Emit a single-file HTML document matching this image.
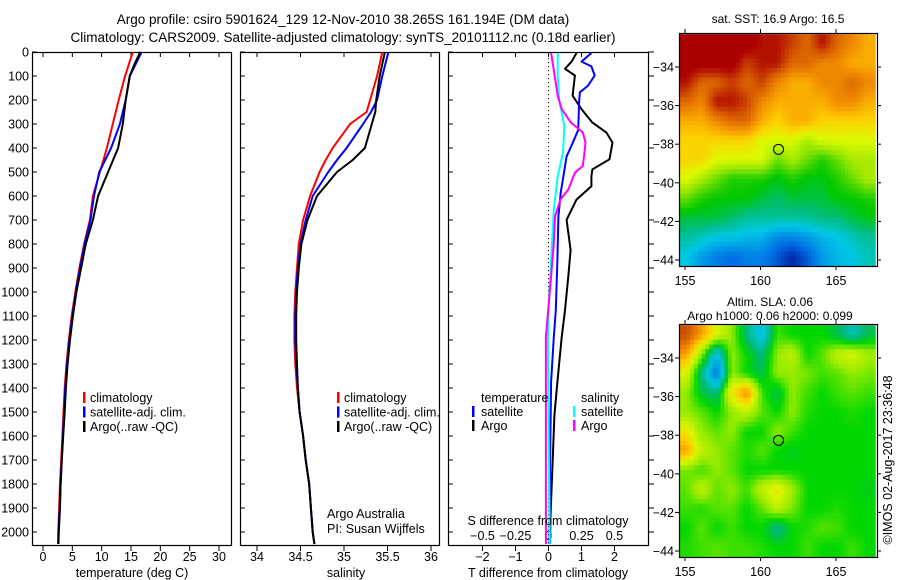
<!DOCTYPE html>
<html><head><meta charset="utf-8"><style>
html,body{margin:0;padding:0;background:#fff;}
svg{display:block;font-family:"Liberation Sans",sans-serif;}
text{font-size:12.5px;fill:#000;}
</style></head><body>
<svg id="fig" width="900" height="580" viewBox="0 0 900 580" xmlns="http://www.w3.org/2000/svg">
<text x="343" y="24" text-anchor="middle" style="font-size:13.5px">Argo profile: csiro 5901624_129 12-Nov-2010 38.265S 161.194E (DM data)</text>
<text x="343" y="42" text-anchor="middle" style="font-size:13.5px">Climatology: CARS2009. Satellite-adjusted climatology: synTS_20101112.nc (0.18d earlier)</text>
<g id="g"></g>
</svg>
<script>
// ---- profile data ----
const tDepthClim=[0,100,200,300,400,500,600,700,800,900,1000,1100,1200,1300,1400,1500,1600,1700,1800,1900,2000,2050];
const tempClim=[15.3,14.0,12.9,11.9,10.9,9.7,8.5,8.0,7.0,6.2,5.5,4.9,4.4,4.0,3.7,3.5,3.3,3.1,2.9,2.75,2.6,2.55];
const tempSat=[16.8,14.8,14.1,13.1,11.6,9.6,8.7,8.1,7.1,6.3,5.6,5.0,4.5,4.1,3.8,3.6,3.4,3.2,3.0,2.85,2.65,2.6];
const tDepthArgo=[0,50,100,200,300,400,500,600,700,800,900,1000,1100,1200,1300,1400,1500,1600,1700,1800,1900,2000,2050];
const tempArgo=[16.6,15.6,14.8,14.1,13.6,12.8,11.1,9.4,8.5,7.3,6.5,5.7,5.1,4.6,4.2,3.9,3.7,3.45,3.2,3.0,2.9,2.7,2.65];
const sDepth=[0,100,200,250,300,400,450,500,600,700,800,900,1000,1100,1200,1300,1400,1500,1600,1700,1800,1900,2000,2050];
const salClim=[35.44,35.38,35.30,35.26,35.07,34.87,34.79,34.72,34.61,34.53,34.48,34.46,34.44,34.43,34.43,34.44,34.46,34.49,34.53,34.56,34.60,34.62,34.64,34.66];
const salSat=[35.51,35.44,35.38,35.31,35.22,35.03,34.92,34.82,34.64,34.56,34.50,34.47,34.45,34.44,34.44,34.45,34.47,34.49,34.53,34.56,34.60,34.62,34.64,34.66];
const salArgo=[35.47,35.41,35.37,35.36,35.32,35.24,35.10,34.92,34.69,34.58,34.51,34.48,34.46,34.45,34.45,34.46,34.47,34.49,34.53,34.56,34.60,34.62,34.64,34.66];
// ---- difference data ----
const dDepthTA=[4,40,70,98,182,238,294,335,377,447,489,517,559,615,699,825,936,1076,1188,1375,1514,1723,1932,2050];
const dTempArgo=[0.85,0.7,0.5,0.8,0.73,1.0,1.33,1.75,1.94,1.85,1.33,1.3,1.3,0.85,0.55,0.67,0.6,0.5,0.4,0.27,0.18,0.12,0.06,0.05];
const dDepthTS=[4,40,60,98,140,168,200,325,380,435,517,587,685,867,1076,1188,1375,1700,2050];
const dTempSat=[1.3,1.0,1.3,1.4,1.2,0.95,0.93,0.9,0.73,0.55,0.45,0.37,0.3,0.27,0.22,0.16,0.08,0.05,0.03];
const dDepthSS=[4,98,196,308,419,517,657,867,1076,1188,1500,2050];
const dSalSat=[0.07,0.07,0.08,0.12,0.11,0.07,0.04,0.02,0.0,-0.005,0.0,0.01];
const dDepthSA=[4,74,182,238,294,335,377,433,475,503,573,615,685,797,936,1188,1500,2050];
const dSalArgo=[0.02,0.04,0.07,0.1,0.17,0.26,0.28,0.27,0.26,0.2,0.15,0.09,0.05,0.04,0.02,-0.02,-0.02,-0.02];
// ---- tick labels ----
const depthTicks=[0,100,200,300,400,500,600,700,800,900,1000,1100,1200,1300,1400,1500,1600,1700,1800,1900,2000];
const tempTicks=[0,5,10,15,20,25,30];
const salTicks=[34,34.5,35,35.5,36];
const dTTicks=[-2,-1,0,1,2];
const dSTicks=[-0.5,-0.25,0,0.25,0.5];
const lonTicks=[155,160,165];
const latTicks=[-34,-36,-38,-40,-42,-44];
// ---- map grids (rows lat -32.8..-43.8, cols lon 155..167) ----
const gridLat=[-32.8,-33.8,-34.8,-35.8,-36.8,-37.8,-38.8,-39.8,-40.8,-41.8,-42.8,-43.8];
const gridLon=[155.1,156.1,157.1,158.1,159.1,160.1,161.1,162.1,163.1,164.1,165.1,166.1,167.1];
const sst=[
[20.5,20.5,20.5,20.5,20.5,20,20,19.5,19,20,19,18.5,18],
[20.5,20.5,20.5,20.5,19.5,20,20,19,19,18.5,18.5,18,18],
[20,19,19,19.5,19,19.5,18.5,18,18,18.5,18.5,19,18.5],
[19,18.5,20,20,19.5,18.5,18,18,18,18,18.5,18.5,18],
[18,18,18.5,19,19,18,17.5,18,18,17.5,17.5,17.5,17.5],
[17.5,17.5,17.5,17.5,17.5,17,17,17,16.5,17,17,17,17],
[17.5,17.5,17,17,17,17,16,16.5,16,15.5,16,16.5,16.5],
[17,16.5,16,15.5,15.5,15.5,15.2,15.5,15.2,15.2,15.5,16,16.5],
[16,15.5,15.3,15.3,15.3,15,14.8,15,15,15,15.3,15.3,15.5],
[15,15,15,14.8,14.5,14.5,14.5,14.5,14.5,14.7,14.7,15,15.2],
[14.5,14.3,14,14,13.8,13.8,13.3,13.3,13.5,13.8,14,14.3,14.5],
[14,13.5,13.2,13,13.2,13.2,12.8,12.3,12.8,13.5,13.8,14,14.3]];
const sla=[
[0.25,0.18,0.1,0.05,-0.05,-0.12,0.02,0,0,0,-0.03,-0.08,-0.03],
[0.18,0.05,-0.12,0.05,0,-0.05,0.05,0.08,0,0.03,0.08,0.1,0.06],
[0.1,-0.05,-0.2,0.05,0,-0.03,0.05,0.05,0.04,0.02,0.03,0.05,0.04],
[0.05,-0.02,-0.05,0.12,0.2,0.02,-0.03,0.05,0.02,0,0.02,0.03,0.02],
[0.05,0.03,0,0.05,0.08,0.03,0,0.05,0.01,0,0,0.01,0],
[0.12,0.05,0.03,0.05,0,0,0.05,0.02,0,0,0,0,0],
[0.18,0.08,0.05,0.03,0.01,0.03,0,-0.01,0,0,0,0,0],
[0.04,0.02,0.05,0.03,0,0,0,0,0,0,0,0,0],
[0.03,0.08,0.03,0.05,0.02,0.08,0.12,0.06,0,0,0,0,-0.01],
[0.02,0.01,0.03,0.03,0,0.03,0.08,0.04,0,0,0.01,0,0],
[0,0.03,0,0.02,0,0,-0.06,0,0.01,0.03,0.02,0,0],
[0.01,0.02,0.03,0.02,0.02,0.01,0,0,0.02,0,0,0.02,0]];
const argoLon=161.194, argoLat=-38.265;

const NS='http://www.w3.org/2000/svg';
const G=document.getElementById('g');
function mk(tag,at,parent){const e=document.createElementNS(NS,tag);for(const k in at)e.setAttribute(k,at[k]);(parent||G).appendChild(e);return e;}
function lin(d0,d1,r0,r1){return v=>r0+(v-d0)*(r1-r0)/(d1-d0);}
const yD=lin(0,2000,52,532);
const P1={x0:32,x1:231}, P2={x0:240,x1:439}, P3={x0:448,x1:648};
const xT=lin(0,30,43,219), xS=lin(34,36,257,431), xdT=lin(0,1,548.5,581.5), xdS=lin(0,0.25,548.5,581.5);
const Y0=52,Y1=545;

function panelBox(p,name){
  const r=mk('rect',{x:p.x0+0.5,y:Y0+0.5,width:p.x1-p.x0,height:Y1-Y0,fill:'none',stroke:'#000','stroke-width':1.2});
  
  
}
function depthTicksFor(p,labels){
  depthTicks.forEach(d=>{
    const y=yD(d);
    mk('line',{x1:p.x0,x2:p.x0+5,y1:y,y2:y,stroke:'#000'});
    if(labels){const t=mk('text',{x:p.x0-3,y:y+4.5,'text-anchor':'end'});t.textContent=d;
      
      }
  });
}
function xTicks(p,ticks,sc,ly,name){
  ticks.forEach(v=>{const x=sc(v);
    mk('line',{x1:x,x2:x,y1:Y0,y2:Y0+5,stroke:'#000'});
    mk('line',{x1:x,x2:x,y1:Y1,y2:Y1+6,stroke:'#000'});
    if(ly){const t=mk('text',{x:x,y:ly,'text-anchor':'middle'});t.textContent=(v<0?'\u2212'+(-v):v);
      
      }
  });
}
function series(vals,depths,sc,color,name,w){
  const pts=vals.map((v,i)=>sc(v).toFixed(1)+','+yD(depths[i]).toFixed(1)).join(' ');
  const l=mk('polyline',{points:pts,fill:'none',stroke:color,'stroke-width':w||2,'stroke-linejoin':'round'});
  
  
}
function label(x,y,s,name,anchor,size){const t=mk('text',{x:x,y:y,'text-anchor':anchor||'start'});if(size)t.style.fontSize=size+'px';t.textContent=s;
  
  return t;}
function legendMark(x,y,color){mk('rect',{x:x,y:y-10,width:2.5,height:11,fill:color});}

// Panel 1
panelBox(P1,'temperature-panel');
depthTicksFor(P1,true);
xTicks(P1,tempTicks,xT,561,'temperature-tick-label');
series(tempClim,tDepthClim,xT,'#f00','temperature-climatology-line');
series(tempSat,tDepthClim,xT,'#00f','temperature-satellite-line');
series(tempArgo,tDepthArgo,xT,'#000','temperature-argo-line');
label(132,577,'temperature (deg C)','temperature-axis-title','middle');
[['climatology','#f00'],['satellite-adj. clim.','#00f'],['Argo(..raw -QC)','#000']].forEach((e,i)=>{
  legendMark(83,402+i*14.5,e[1]);label(90,402+i*14.5,e[0],'temperature-legend-entry');});

// Panel 2
panelBox(P2,'salinity-panel');
depthTicksFor(P2,false);
xTicks(P2,salTicks,xS,561,'salinity-tick-label');
series(salClim,sDepth,xS,'#f00','salinity-climatology-line');
series(salSat,sDepth,xS,'#00f','salinity-satellite-line');
series(salArgo,sDepth,xS,'#000','salinity-argo-line');
label(346,577,'salinity','salinity-axis-title','middle');
[['climatology','#f00'],['satellite-adj. clim.','#00f'],['Argo(..raw -QC)','#000']].forEach((e,i)=>{
  legendMark(337,402+i*14.5,e[1]);label(344,402+i*14.5,e[0],'salinity-legend-entry');});
label(327,518,'Argo Australia','credit-argo-australia');
label(327,533,'PI: Susan Wijffels','credit-pi');

// Panel 3
panelBox(P3,'difference-panel');
depthTicksFor(P3,false);
depthTicks.forEach(d=>mk('line',{x1:P3.x1,x2:P3.x1+6,y1:yD(d),y2:yD(d),stroke:'#000'}));
xTicks(P3,dTTicks,xdT,561,'t-diff-tick-label');
dSTicks.forEach(v=>{label(xdS(v),540,(v<0?'\u2212'+(-v):String(v)),'s-diff-tick-label','middle');});
for(let y=Y0+2;y<Y1;y+=4) mk('rect',{x:548,y:y,width:1,height:1.2,fill:'#000'});
series(dTempArgo,dDepthTA,xdT,'#000','t-diff-argo-line');
series(dTempSat,dDepthTS,xdT,'#00f','t-diff-satellite-line');
series(dSalSat,dDepthSS,xdS,'#0ff','s-diff-satellite-line');
series(dSalArgo,dDepthSA,xdS,'#f0f','s-diff-argo-line');
label(548,577,'T difference from climatology','t-diff-axis-title','middle');
label(548,525,'S difference from climatology','s-diff-axis-title','middle');
label(481,402,'temperature','diff-legend-temperature-header');
legendMark(472,416,'#00f');label(481,416,'satellite','diff-legend-t-satellite');
legendMark(472,430,'#000');label(481,430,'Argo','diff-legend-t-argo');
label(581,402,'salinity','diff-legend-salinity-header');
legendMark(573,416,'#0ff');label(581,416,'satellite','diff-legend-s-satellite');
legendMark(573,430,'#f0f');label(581,430,'Argo','diff-legend-s-argo');

// Maps
function colorFrom(stops,v){
  if(v<=stops[0][0])return 'rgb('+stops[0][1].join(',')+')';
  for(let i=1;i<stops.length;i++){if(v<=stops[i][0]){const a=stops[i-1],b=stops[i],f=(v-a[0])/(b[0]-a[0]);
    return 'rgb('+[0,1,2].map(k=>Math.round(a[1][k]+(b[1][k]-a[1][k])*f)).join(',')+')';}}
  return 'rgb('+stops[stops.length-1][1].join(',')+')';
}
const sstStops=[[12.3,[0,40,170]],[13,[0,110,230]],[14,[0,200,230]],[14.7,[0,190,120]],[15.3,[0,200,0]],[16.3,[150,230,0]],[17,[220,250,0]],[17.6,[255,205,0]],[18.3,[245,150,0]],[19.2,[215,90,0]],[20.2,[170,0,0]]];
const slaStops=[[-0.2,[0,120,230]],[-0.1,[0,200,220]],[-0.04,[0,185,110]],[0,[0,215,0]],[0.05,[150,235,0]],[0.1,[220,245,0]],[0.15,[255,200,0]],[0.2,[240,130,0]],[0.27,[190,60,0]]];
function sample(grid,fi,fj){
  const R=grid.length,C=grid[0].length;
  fi=Math.max(0,Math.min(R-1,fi));fj=Math.max(0,Math.min(C-1,fj));
  const i0=Math.floor(fi),j0=Math.floor(fj),i1=Math.min(R-1,i0+1),j1=Math.min(C-1,j0+1),a=fi-i0,b=fj-j0;
  return grid[i0][j0]*(1-a)*(1-b)+grid[i1][j0]*a*(1-b)+grid[i0][j1]*(1-a)*b+grid[i1][j1]*a*b;
}
function drawMap(y0,grid,stops,name,title1,title2){
  const box={x0:679,x1:877,y0:y0,y1:y0+233};
  const xL=lin(155,165,685,836), yL=lin(-34,-44,y0+34,y0+227);
  const g=mk('g',{});
  
  
  const cp=mk('clipPath',{id:name+'-clip'},g);mk('rect',{x:box.x0,y:box.y0,width:box.x1-box.x0,height:box.y1-box.y0},cp);
  const cg=mk('g',{'clip-path':'url(#'+name+'-clip)'},g);
  const N=4, R=grid.length, C=grid[0].length;
  const cw=(xL(1)-xL(0))/N, ch=(yL(-1)-yL(0))/N;
  for(let si=0;si<R*N;si++)for(let sj=0;sj<C*N;sj++){
    const fi=(si+0.5)/N-0.5, fj=(sj+0.5)/N-0.5;
    const v=sample(grid,fi,fj);
    const x=xL(gridLon[0]-0.5)+sj*cw, y=yL(gridLat[0]+0.5)+si*ch;
    const c=mk('rect',{x:x.toFixed(2),y:y.toFixed(2),width:(cw+0.5).toFixed(2),height:(ch+0.5).toFixed(2),fill:colorFrom(stops,v)},cg);
    
    
  }
  mk('rect',{x:box.x0+0.5,y:box.y0+0.5,width:box.x1-box.x0,height:box.y1-box.y0,fill:'none',stroke:'#000','stroke-width':1.2},g);
  lonTicks.forEach(v=>{const x=xL(v);mk('line',{x1:x,x2:x,y1:box.y0-4,y2:box.y0,stroke:'#000'},g);mk('line',{x1:x,x2:x,y1:box.y1,y2:box.y1+4,stroke:'#000'},g);
    label(x,box.y1+19,String(v),'map-lon-tick-label','middle');});
  latTicks.forEach(v=>{const y=yL(v);mk('line',{x1:box.x0-4,x2:box.x0,y1:y,y2:y,stroke:'#000'},g);mk('line',{x1:box.x1,x2:box.x1+4,y1:y,y2:y,stroke:'#000'},g);
    label(box.x0-5,y+4.5,'\u2212'+(-v),'map-lat-tick-label','end');});
  const c=mk('circle',{cx:xL(argoLon),cy:yL(argoLat),r:5,fill:'none',stroke:'#000','stroke-width':1},g);
  
  
  if(title2){label(770,y0-18,title1,name+'-title','middle',12);label(770,y0-4,title2,name+'-subtitle','middle',12);}
  else label(778,y0-10,title1,name+'-title','middle',12);
}
drawMap(33,sst,sstStops,'sst-map','sat. SST: 16.9 Argo: 16.5');
drawMap(324,sla,slaStops,'sla-map','Altim. SLA: 0.06','Argo h1000: 0.06 h2000: 0.099');
const ts=label(0,0,'\u00A9IMOS 02-Aug-2017 23:36:48','timestamp','middle',12.5);
ts.setAttribute('transform','translate(892,460) rotate(-90)');
</script>
</body></html>
